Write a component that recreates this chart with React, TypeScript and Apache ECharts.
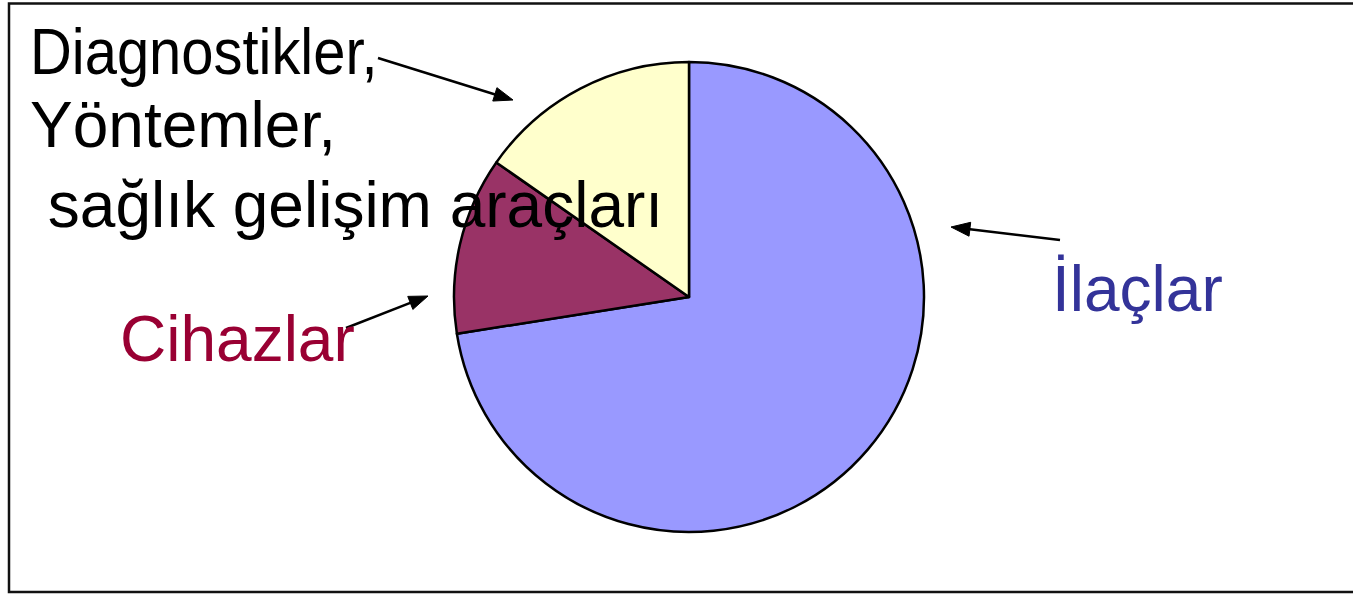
import React, { useEffect, useRef } from "react";
import * as echarts from "echarts";

// Data
const categories = ["İlaçlar", "Cihazlar", "Diagnostikler, Yöntemler, sağlık gelişim araçları"];
const values = [72.5, 12.2, 15.3];
const sliceColors = ["#9999FF", "#993366", "#FFFFCC"];

// Label texts
const diagLabelLines = ["Diagnostikler,", "Yöntemler,", " sağlık gelişim araçları"];
const cihazLabel = "Cihazlar";
const ilacLabel = "İlaçlar";

function arrow(x1: number, y1: number, x2: number, y2: number) {
  const dx = x2 - x1;
  const dy = y2 - y1;
  const len = Math.sqrt(dx * dx + dy * dy);
  const ux = dx / len;
  const uy = dy / len;
  const hl = 19;
  const hw = 7;
  const bx = x2 - ux * hl;
  const by = y2 - uy * hl;
  return [
    {
      type: "line",
      z: 20,
      silent: true,
      shape: { x1, y1, x2: bx + ux * 2, y2: by + uy * 2 },
      style: { stroke: "#000", lineWidth: 2.5 },
    },
    {
      type: "polygon",
      z: 20,
      silent: true,
      shape: {
        points: [
          [x2, y2],
          [bx - uy * hw, by + ux * hw],
          [bx + uy * hw, by - ux * hw],
        ],
      },
      style: { fill: "#000", stroke: "#000", lineWidth: 1 },
    },
  ];
}

function textEl(text: string, x: number, y: number, size: number, color: string, sx: number) {
  return {
    type: "text",
    z: 30,
    silent: true,
    x,
    y,
    scaleX: sx,
    style: {
      text,
      x: 0,
      y: 0,
      fill: color,
      font: `${size}px "Liberation Sans", Arial, sans-serif`,
      align: "left",
      verticalAlign: "middle",
    },
  };
}

export default function App() {
  const ref = useRef<HTMLDivElement>(null);
  useEffect(() => {
    if (!ref.current) return;
    const chart = echarts.init(ref.current, undefined, { renderer: "svg" });
    chart.setOption({
      animation: false,
      backgroundColor: "#ffffff",
      series: [
        {
          type: "pie",
          center: [689, 297],
          radius: 235,
          startAngle: 90,
          clockwise: true,
          silent: true,
          label: { show: false },
          labelLine: { show: false },
          itemStyle: { borderColor: "#000", borderWidth: 2.5 },
          data: categories.map((name, i) => ({
            name,
            value: values[i],
            itemStyle: { color: sliceColors[i] },
          })),
        },
      ],
      graphic: [
        {
          type: "rect",
          z: 5,
          silent: true,
          shape: { x: 9, y: 3.5, width: 1400, height: 588.5 },
          style: { fill: "none", stroke: "#111", lineWidth: 2.5 },
        },
        textEl(diagLabelLines[0], 30, 52, 64, "#000", 0.905),
        textEl(diagLabelLines[1], 30, 125, 64, "#000", 1.0),
        textEl(diagLabelLines[2], 30, 205, 64, "#000", 1.0),
        textEl(cihazLabel, 120, 339, 64, "#990033", 1.0),
        textEl(ilacLabel, 1052, 288.5, 64, "#333399", 1.0),
        ...arrow(378, 58, 513, 100),
        ...arrow(346, 328, 428, 296),
        ...arrow(1060, 240, 951, 227),
      ],
    });
    return () => chart.dispose();
  }, []);
  return (
    <div
      ref={ref}
      style={{ position: "fixed", left: 0, top: 0, width: 1353, height: 594 }}
    />
  );
}
